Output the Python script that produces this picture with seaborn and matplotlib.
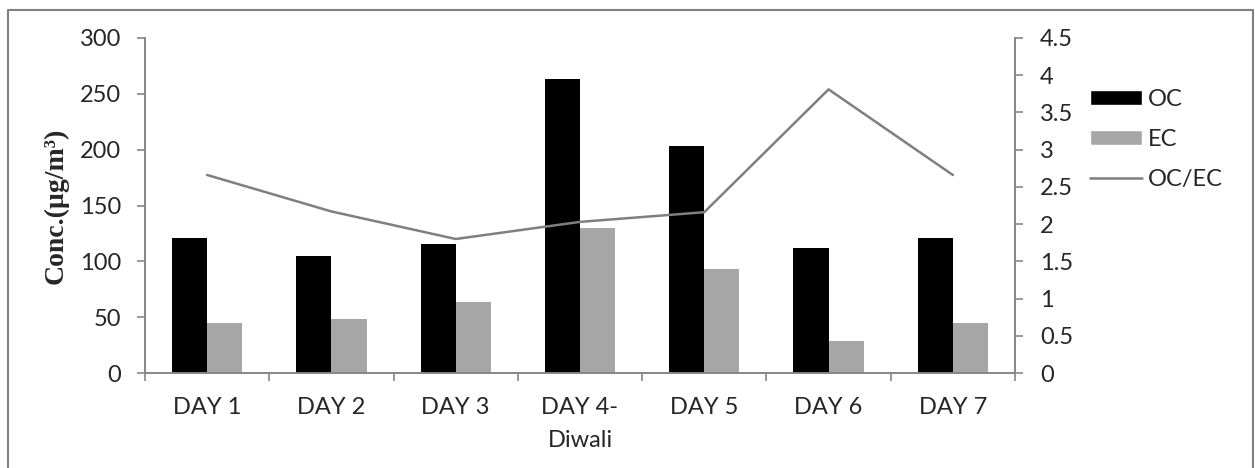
import pandas as pd
import seaborn as sns
import matplotlib.pyplot as plt
from matplotlib.lines import Line2D
from matplotlib.patches import Patch

sns.set_theme(style="white")
plt.rcParams["font.family"] = ["Lato", "DejaVu Sans"]

# data
days = ["DAY 1", "DAY 2", "DAY 3", "DAY 4-\nDiwali", "DAY 5", "DAY 6", "DAY 7"]
oc = [120.6, 105.0, 115.5, 263.0, 203.0, 112.0, 120.6]
ec = [44.8, 48.3, 63.8, 129.8, 93.4, 29.0, 44.8]
oc_ec = [2.66, 2.17, 1.80, 2.03, 2.16, 3.81, 2.66]

spine_col = "#868686"
line_col = "#7f7f7f"
bar_cols = {"OC": "#000000", "EC": "#a6a6a6"}
fs = 17

df = pd.DataFrame({"Day": days * 2,
                   "Species": ["OC"] * len(days) + ["EC"] * len(days),
                   "Conc": oc + ec})

fig = plt.figure(figsize=(12.55, 4.68), dpi=100)
ax = fig.add_axes([145 / 1255, 1 - 373 / 468, 870 / 1255, 335 / 468])

sns.barplot(data=df, x="Day", y="Conc", hue="Species", palette=bar_cols,
            width=0.565, gap=0, ax=ax, legend=False, saturation=1,
            edgecolor="none")

ax2 = ax.twinx()
sns.lineplot(x=list(range(len(days))), y=oc_ec, ax=ax2, color=line_col,
             linewidth=1.8)

ax.set_xlim(-0.5, len(days) - 0.5)
ax.set_ylim(0, 300)
ax.set_yticks(range(0, 301, 50))
ax2.set_ylim(0, 4.5)
ax2.set_yticks([0, 0.5, 1, 1.5, 2, 2.5, 3, 3.5, 4, 4.5])
ax2.set_yticklabels(["0", "0.5", "1", "1.5", "2", "2.5", "3", "3.5", "4", "4.5"])

# category ticks sit between groups like in Excel
ax.set_xticks(range(len(days)))
ax.set_xticklabels(days, fontsize=fs, linespacing=1.7)
ax.tick_params(axis="x", length=0, pad=17)
ax.set_xticks([i - 0.5 for i in range(len(days) + 1)], minor=True)
ax.tick_params(axis="x", which="minor", length=6, color=spine_col, width=1.2,
               direction="out", bottom=True)

ax.tick_params(axis="y", length=6, color=spine_col, width=1.2, labelsize=fs,
               direction="out", left=True, pad=11)
ax2.tick_params(axis="y", length=6, color=spine_col, width=1.2, labelsize=fs,
                direction="out", right=True, pad=12)

for a in (ax, ax2):
    a.spines["top"].set_visible(False)
    for s in ("left", "right", "bottom"):
        a.spines[s].set_color(spine_col)
        a.spines[s].set_linewidth(1.2)
    a.grid(False)

ax.set_xlabel("")
ax2.set_xlabel("")
ax2.set_ylabel("")
ax.set_ylabel("Conc.(µg/m³)", fontsize=20, fontweight="bold",
              family="Liberation Serif", labelpad=8)

handles = [Patch(facecolor="#000000", label="OC"),
           Patch(facecolor="#a6a6a6", label="EC"),
           Line2D([], [], color=line_col, linewidth=1.8, label="OC/EC")]
fig.legend(handles=handles, loc="upper left",
           bbox_to_anchor=(1090 / 1255, 1 - 89 / 468),
           frameon=False, fontsize=fs, handlelength=2.2, handleheight=0.6,
           handletextpad=0.25, labelspacing=0.8, borderpad=0, borderaxespad=0)

# outer chart border (top, left, right)
fig.add_artist(Line2D([8 / 1255, 8 / 1255, 1253 / 1255, 1253 / 1255],
                      [0, 1 - 9.5 / 468, 1 - 9.5 / 468, 0],
                      transform=fig.transFigure, color="#808080", linewidth=1.5))

fig.savefig("out.png", dpi=100)
